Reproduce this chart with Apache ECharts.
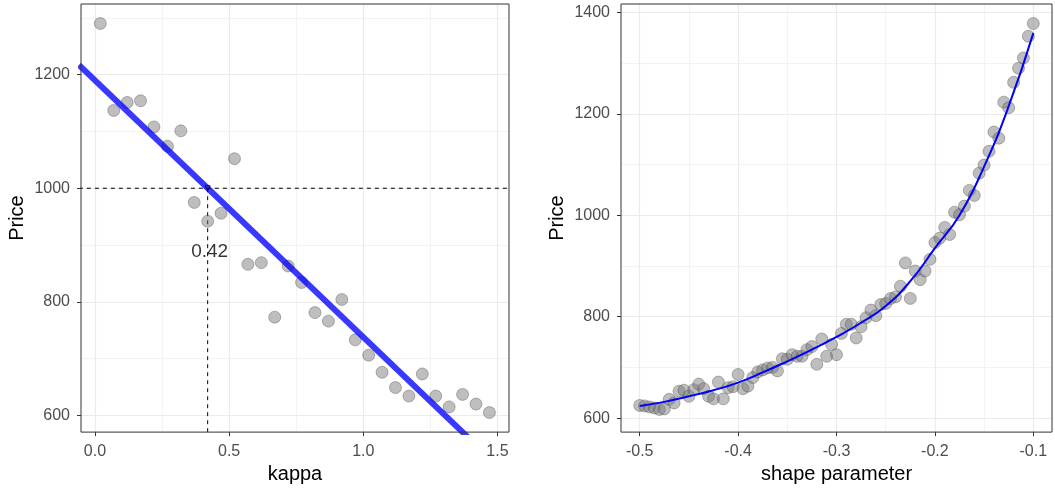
<!DOCTYPE html>
<html>
<head>
<meta charset="utf-8">
<script src="https://cdn.jsdelivr.net/npm/echarts@6/dist/echarts.min.js"></script>
<style>
html,body{margin:0;padding:0;background:#fff;}
#main{width:1055px;height:489px;}
</style>
</head>
<body>
<div id="main"></div>
<script>
// ---- Left panel data ----
const kappa = [0.02,0.07,0.12,0.17,0.22,0.27,0.32,0.37,0.42,0.47,0.52,0.57,0.62,0.67,0.72,0.77,0.82,0.87,0.92,0.97,1.02,1.07,1.12,1.17,1.22,1.27,1.32,1.37,1.42,1.47];
const kappaPrice = [1290,1137,1151,1154,1108,1074,1101,975,942,956,1052,866,869,773,863,834,781,766,804,733,706,676,649,634,673,634,615,637,620,605];
const kappaFitX = [-0.06, 1.40];
const kappaFitY = [1217, 557];
const targetPrice = 1000;
const targetKappa = 0.42;
const targetLabel = '0.42';
const kappaTicks = [0, 0.5, 1.0, 1.5];
const kappaMinor = [0.25, 0.75, 1.25];
const priceTicksL = [600, 800, 1000, 1200];
const priceMinorL = [700, 900, 1100, 1300];

// ---- Right panel data ----
const shapeX = [-0.500,-0.495,-0.490,-0.485,-0.480,-0.475,-0.470,-0.465,-0.460,-0.455,-0.450,-0.445,-0.440,-0.435,-0.430,-0.425,-0.420,-0.415,-0.410,-0.405,-0.400,-0.395,-0.390,-0.385,-0.380,-0.375,-0.370,-0.365,-0.360,-0.355,-0.350,-0.345,-0.340,-0.335,-0.330,-0.325,-0.320,-0.315,-0.310,-0.305,-0.300,-0.295,-0.290,-0.285,-0.280,-0.275,-0.270,-0.265,-0.260,-0.255,-0.250,-0.245,-0.240,-0.235,-0.230,-0.225,-0.220,-0.215,-0.210,-0.205,-0.200,-0.195,-0.190,-0.185,-0.180,-0.175,-0.170,-0.165,-0.160,-0.155,-0.150,-0.145,-0.140,-0.135,-0.130,-0.125,-0.120,-0.115,-0.110,-0.105,-0.100];
const shapePrice = [625,624,622,620,617,618,637,630,653,655,643,656,667,658,643,638,671,638,660,662,686,658,663,680,691,695,699,700,693,717,716,725,722,722,735,741,706,756,722,745,725,767,785,785,758,780,798,813,802,824,826,836,839,860,906,836,890,873,890,913,946,955,976,962,1006,1001,1018,1049,1039,1083,1099,1126,1164,1152,1223,1212,1262,1290,1310,1353,1378];
const shapeFitX = [-0.500,-0.475,-0.450,-0.425,-0.400,-0.375,-0.350,-0.325,-0.300,-0.275,-0.250,-0.225,-0.200,-0.175,-0.150,-0.125,-0.100];
const shapeFitY = [624,632,643,655,670,690,712,735,760,788,821,870,935,1000,1096,1215,1359];
const shapeTicks = [-0.5,-0.4,-0.3,-0.2,-0.1];
const shapeMinor = [-0.45,-0.35,-0.25,-0.15];
const priceTicksR = [600, 800, 1000, 1200, 1400];
const priceMinorR = [700, 900, 1100, 1300];

const FONT = 'Liberation Sans, Arial, sans-serif';
const zip = (a, b) => a.map((v, i) => [v, b[i]]);

function majorAxis(grid, min, max, ticks, digits, name, isY) {
  return {
    type: 'value', gridIndex: grid, min: min, max: max,
    name: name, nameLocation: 'middle', nameGap: isY ? 54 : 31,
    nameTextStyle: {color: '#000', fontSize: 20, fontFamily: FONT},
    axisLine: {show: false, onZero: false},
    axisTick: {show: true, length: 4, customValues: ticks, lineStyle: {color: '#333', width: 1}},
    axisLabel: {customValues: ticks, margin: isY ? 11 : 11, color: '#4d4d4d', fontSize: 16, fontFamily: FONT,
      formatter: v => digits ? Number(v).toFixed(digits) : String(Math.round(v))},
    splitLine: {show: true, lineStyle: {color: '#ebebeb', width: 1.2}}
  };
}
function minorAxis(grid, min, max, ticks) {
  return {
    type: 'value', gridIndex: grid, min: min, max: max,
    axisLine: {show: false, onZero: false},
    axisTick: {show: false, customValues: ticks},
    axisLabel: {show: false, customValues: ticks},
    splitLine: {show: true, lineStyle: {color: '#f0f0f0', width: 0.8}}
  };
}

const ptStyle = {color: 'rgba(120,120,120,0.6)', borderColor: 'rgba(60,60,60,0.55)', borderWidth: 0.8};

const option = {
  animation: false,
  backgroundColor: '#fff',
  textStyle: {fontFamily: FONT},
  grid: [
    {left: 81, top: 4, width: 428, height: 429, show: true, borderColor: '#333', borderWidth: 1, backgroundColor: 'transparent', z: 5},
    {left: 621, top: 4, width: 431, height: 429, show: true, borderColor: '#333', borderWidth: 1, backgroundColor: 'transparent', z: 5}
  ],
  xAxis: [
    majorAxis(0, -0.052, 1.543, kappaTicks, 1, 'kappa', false),
    majorAxis(1, -0.519, -0.081, shapeTicks, 1, 'shape parameter', false),
    minorAxis(0, -0.052, 1.543, kappaMinor),
    minorAxis(1, -0.519, -0.081, shapeMinor)
  ],
  yAxis: [
    majorAxis(0, 570.6, 1324.4, priceTicksL, 0, 'Price', true),
    majorAxis(1, 572.4, 1416.5, priceTicksR, 0, 'Price', true),
    minorAxis(0, 570.6, 1324.4, priceMinorL),
    minorAxis(1, 572.4, 1416.5, priceMinorR)
  ],
  series: [
    {type: 'line', xAxisIndex: 0, yAxisIndex: 0, data: [[kappaFitX[0], targetPrice], [kappaTicks[3] + 0.2, targetPrice]],
      showSymbol: false, symbol: 'none', clip: true, silent: true, z: 2,
      lineStyle: {color: '#000', width: 1, type: [4, 4]}},
    {type: 'line', xAxisIndex: 0, yAxisIndex: 0, data: [[targetKappa, 500], [targetKappa, targetPrice]],
      showSymbol: false, symbol: 'none', clip: true, silent: true, z: 2,
      lineStyle: {color: '#000', width: 1, type: [4, 4]}},
    {type: 'scatter', xAxisIndex: 0, yAxisIndex: 0, data: zip(kappa, kappaPrice),
      symbolSize: 12, itemStyle: ptStyle, z: 3},
    {type: 'line', xAxisIndex: 0, yAxisIndex: 0, data: zip(kappaFitX, kappaFitY),
      showSymbol: false, symbol: 'none', clip: true, z: 4,
      lineStyle: {color: 'rgba(0,0,255,0.78)', width: 6}},
    {type: 'scatter', xAxisIndex: 0, yAxisIndex: 0, data: [[targetKappa, targetPrice]],
      symbol: 'triangle', symbolRotate: 180, symbolSize: 5, z: 6,
      itemStyle: {color: 'rgba(0,0,0,0)', borderColor: '#000', borderWidth: 1}},
    {type: 'scatter', xAxisIndex: 0, yAxisIndex: 0, data: [[targetKappa, 888]],
      symbolSize: 1, z: 6, itemStyle: {color: 'rgba(0,0,0,0)'},
      label: {show: true, position: 'inside', offset: [2, 0], formatter: targetLabel, color: '#000', fontSize: 19, fontFamily: FONT}},
    {type: 'scatter', xAxisIndex: 1, yAxisIndex: 1, data: zip(shapeX, shapePrice),
      symbolSize: 12, itemStyle: ptStyle, z: 3},
    {type: 'line', xAxisIndex: 1, yAxisIndex: 1, data: zip(shapeFitX, shapeFitY),
      showSymbol: false, symbol: 'none', smooth: true, z: 4,
      lineStyle: {color: '#0000ff', width: 2}}
  ]
};
const chart = echarts.init(document.getElementById('main'), null, {renderer: 'canvas'});
chart.setOption(option);
</script>
</body>
</html>
